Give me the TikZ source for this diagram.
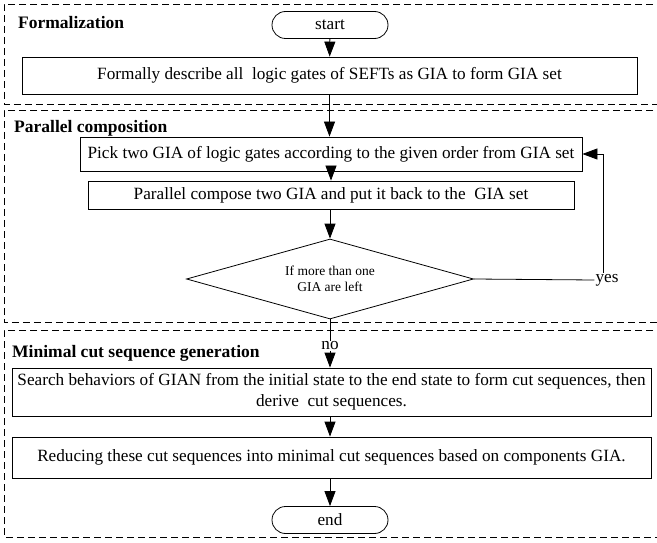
\documentclass[tikz,border=0pt]{standalone}
\usepackage{fontspec}
\setmainfont{Liberation Serif}
\usetikzlibrary{arrows.meta,shapes.geometric,shapes.misc}
\tikzset{
  panel/.style={draw, dashed, dash pattern=on 7pt off 4pt, line width=0.8pt},
  procbox/.style={draw, rectangle, line width=0.8pt, inner sep=0pt, font=\fontsize{17.2}{21}\selectfont, align=center},
  term/.style={draw, rounded rectangle, line width=0.8pt, minimum width=116pt, minimum height=27pt, inner sep=0pt, font=\fontsize{17.2}{21}\selectfont},
  decide/.style={draw, diamond, shape aspect=3.6, line width=0.8pt, inner sep=0pt, minimum width=287pt, minimum height=80pt, font=\fontsize{13.5}{16.5}\selectfont, align=center},
  paneltitle/.style={anchor=west, inner sep=0pt, font=\fontsize{17.5}{21}\selectfont\bfseries},
  lbl/.style={inner sep=1pt, font=\fontsize{17.2}{21}\selectfont},
  flow/.style={line width=0.8pt, -{Triangle[length=15pt,width=11pt]}},
  plain/.style={line width=0.8pt}
}
\begin{document}
\begin{tikzpicture}[x=1pt,y=-1pt]
\useasboundingbox (0,0) rectangle (657,543);
\fill[white] (0,0) rectangle (657,543);
% panels
\draw[panel] (664,4) -- (4,4) -- (4,104) -- (664,104);
\draw[panel] (664,110) -- (4,110) -- (4,322) -- (664,322);
\draw[panel] (664,330) -- (4,330) -- (4,537) -- (664,537);
\node[paneltitle] (t1) at (18,23) {Formalization};
\node[paneltitle] (t2) at (14,128) {Parallel composition};
\node[paneltitle] (t3) at (12,353) {Minimal cut sequence generation};
% nodes
\node[term] (start) at (330,25) {start};
\node[procbox, minimum width=615pt, minimum height=37pt] (formal) at (329.5,75.5) {Formally describe all\ \ logic gates of SEFTs as GIA to form GIA set};
\node[procbox, minimum width=502pt, minimum height=34pt] (pick) at (331,154) {Pick two GIA of logic gates according to the given order from GIA set};
\node[procbox, minimum width=486pt, minimum height=28pt] (comp) at (331,195) {Parallel compose two GIA and put it back to the\ \ GIA set};
\node[decide] (dia) at (330,279) {If more than one\\GIA are left};
\node[lbl] (yes) at (607,280) {yes};
\node[lbl] (no) at (330,346) {no};
\node[procbox, minimum width=639pt, minimum height=48pt] (search) at (331.5,392) {Search behaviors of GIAN from the initial state to the end state to form cut sequences, then\\derive\ \ cut sequences.};
\node[procbox, minimum width=639pt, minimum height=41pt] (reduce) at (331.5,457.5) {Reducing these cut sequences into minimal cut sequences based on components GIA.};
\node[term] (end) at (330,520) {end};
\coordinate (turn) at (603,154);
% connectors
\draw[flow] (start) -- (formal);
\draw[flow] (formal) -- (pick.north -| formal.south);
\draw[flow] (pick) -- (comp);
\draw[flow] (comp.south -| dia.north) -- (dia.north);
\draw[plain] (dia.east) -- (yes.west);
\draw[flow] (yes.north -| turn) -- (turn) -- (pick.east);
\draw[plain] (dia.south) -- (no.north);
\draw[flow] (no.south) -- (search.north -| no.south);
\draw[flow] (search.south -| end.north) -- (reduce.north -| end.north);
\draw[flow] (reduce.south -| end.north) -- (end.north);
\end{tikzpicture}
\end{document}
